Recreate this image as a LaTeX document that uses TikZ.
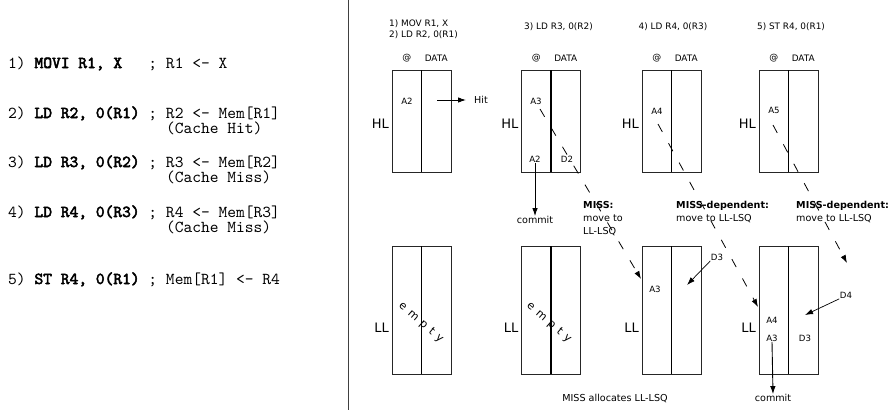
\documentclass[tikz,border=0pt]{standalone}
\usepackage{fontspec}
\setmainfont{DejaVu Sans}
\newfontfamily\codefont{lmmono10-regular.otf}[BoldFont=lmmono10-regular.otf, BoldFeatures={FakeBold=3}]
\usetikzlibrary{arrows.meta}
\begin{document}
\begin{tikzpicture}[x=1pt,y=-1pt,
  col/.style={draw=black!85, line width=0.8pt, minimum width=29.5pt, inner sep=0pt, outer sep=0pt},
  hlcol/.style={col, minimum height=102pt},
  llcol/.style={col, minimum height=128pt},
  midline/.style={line width=1.2pt, draw=black},
  code/.style={font=\codefont\fontsize{16.7}{17}\selectfont, anchor=base west, inner sep=0pt},
  hdr/.style={font=\fontsize{8.9}{11}\selectfont, inner sep=0pt},
  big/.style={font=\fontsize{13}{14}\selectfont, inner sep=0pt},
  lbl/.style={font=\fontsize{8.6}{9}\selectfont, inner sep=0.5pt},
  note/.style={font=\fontsize{9.6}{13}\selectfont, inner sep=0pt, align=left},
  arr/.style={-{Latex[length=8pt,width=5.5pt]}, line width=0.9pt},
  darr/.style={arr, dash pattern=on 9pt off 13pt, line width=0.8pt},
  emptytxt/.style={font=\fontsize{11}{12}\selectfont\addfontfeature{LetterSpace=45}, inner sep=0pt, rotate=-41},
]
\useasboundingbox (0,0) rectangle (891,410);

% divider
\draw[line width=0.9pt, black!75] (348,0) coordinate (dv1) -- (348,410) coordinate (dv2);

% code listing
\node[code] (c1) at (8,68) {1) \textbf{MOVI R1, X}\ \ \ ; R1 <- X};
\node[code] (c2) at (8,118) {2) \textbf{LD R2, 0(R1)} ; R2 <- Mem[R1]};
\node[code] (c2b) at (8,133) {\phantom{2) LD R2, 0(R1) ; }(Cache Hit)};
\node[code] (c3) at (8,167) {3) \textbf{LD R3, 0(R2)} ; R3 <- Mem[R2]};
\node[code] (c3b) at (8,182) {\phantom{3) LD R3, 0(R2) ; }(Cache Miss)};
\node[code] (c4) at (8,217) {4) \textbf{LD R4, 0(R3)} ; R4 <- Mem[R3]};
\node[code] (c4b) at (8,232) {\phantom{4) LD R4, 0(R3) ; }(Cache Miss)};
\node[code] (c5) at (8,284) {5) \textbf{ST R4, 0(R1)} ; Mem[R1] <- R4};

% panels
\foreach \i/\x in {1/392,2/521.5,3/642,4/759}{
  \node[hlcol] (h\i a) at (\x+14.75,121) {};
  \node[hlcol] (h\i b) at (\x+44.25,121) {};
  \node[llcol] (l\i a) at (\x+14.75,310) {};
  \node[llcol] (l\i b) at (\x+44.25,310) {};
  \draw[midline] (h\i a.north east) -- (h\i a.south east);
  \draw[midline] (l\i a.north east) -- (l\i a.south east);
  \node[hdr] (at\i) at (\x+14.75,58) {@};
  \node[hdr] (da\i) at (\x+44.25,58) {DATA};
  \node[big, anchor=east] (hl\i) at (\x-3,124) {HL};
  \node[big, anchor=east] (ll\i) at (\x-3,328) {LL};
}

% headers
\node[hdr, anchor=west, align=left] (t1) at (389,29.5) {1) MOV R1, X\\2) LD R2, 0(R1)};
\node[hdr] (t2) at (558.5,27) {3) LD R3, 0(R2)};
\node[hdr] (t3) at (673,27) {4) LD R4, 0(R3)};
\node[hdr] (t4) at (791,27) {5) ST R4, 0(R1)};

% panel 1
\node[lbl] (p1a2) at (407,101) {A2};
\coordinate (hitS) at (437,100);
\coordinate (hitE) at (466,100);
\draw[arr] (hitS) -- (hitE);
\node[hdr, anchor=west, font=\fontsize{9.6}{11}\selectfont] (hit) at (474,100) {Hit};
\node[emptytxt] (em1) at (421,323) {empty};

% panel 2
\node[lbl] (p2a3) at (536,101) {A3};
\node[lbl] (p2a2) at (535,159) {A2};
\node[lbl] (p2d2) at (567,159) {D2};
\node[note] (cm1) at (535,220) {commit};
\draw[arr] (p2a2.south) -- (cm1.north);
\node[emptytxt] (em2) at (549,323) {empty};
\node[note, anchor=north west] (miss) at (583,201) {\textbf{MISS:}\\move to\\LL-LSQ};

% panel 3
\node[lbl] (p3a4) at (657,111) {A4};
\node[lbl] (p3a3) at (655,289) {A3};
\node[lbl] (p3d3) at (717,257) {D3};
\coordinate (d3tip) at (687,285);
\draw[arr, line width=0.7pt] (p3d3.south west) -- (d3tip);
\node[note, anchor=north west] (md1) at (676,201) {\textbf{MISS-dependent:}\\move to LL-LSQ};

% panel 4
\node[lbl] (p4a5) at (774,110) {A5};
\node[lbl] (p4a4) at (772,320) {A4};
\node[lbl] (p4a3) at (772,338) {A3};
\node[lbl] (p4d3) at (805,338) {D3};
\node[lbl] (p4d4) at (846,295) {D4};
\coordinate (d4tip) at (805,315);
\draw[arr, line width=0.7pt] (p4d4.south west) -- (d4tip);
\node[note] (cm2) at (773,398) {commit};
\draw[arr] (p4a3.south) -- (cm2.north);
\node[note, anchor=north west] (md2) at (796,201) {\textbf{MISS-dependent:}\\move to LL-LSQ};

\node[note] (alloc) at (615,398) {MISS allocates LL-LSQ};

% dashed moves
\coordinate (s1) at (540,109);
\coordinate (e1) at (641,279);
\coordinate (s2) at (658,124);
\coordinate (e2) at (758,307);
\coordinate (s3) at (773,125);
\coordinate (e3) at (847,263);
\draw[darr] (s1) -- (e1);
\draw[darr] (s2) -- (e2);
\draw[darr] (s3) -- (e3);
\end{tikzpicture}
\end{document}
